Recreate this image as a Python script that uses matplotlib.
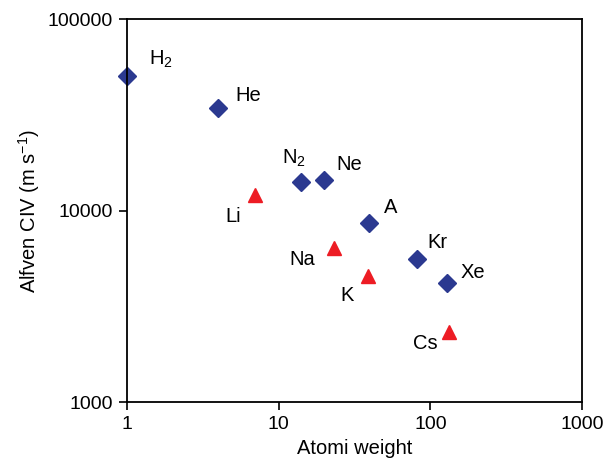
import matplotlib
matplotlib.use("Agg")
import matplotlib.pyplot as plt
from matplotlib.ticker import NullLocator

plt.rcParams['font.family'] = ['Liberation Sans', 'DejaVu Sans']
plt.rcParams['mathtext.fontset'] = 'custom'
plt.rcParams['mathtext.rm'] = 'Liberation Sans'
plt.rcParams['mathtext.it'] = 'Liberation Sans'

# gases (blue diamonds)
gas_names = ['H$_2$', 'He', 'N$_2$', 'Ne', 'A', 'Kr', 'Xe']
gas_weight = [1, 4, 14, 20, 39.5, 82, 128]
gas_civ = [50500, 34500, 14100, 14400, 8650, 5600, 4180]
gas_offsets = [(15.6, 7.9), (12.5, 5), (-13.2, 13.5), (8.4, 7.7), (10.3, 6.7), (7.2, 7.7), (10.1, 4)]

# alkali metals (red triangles)
alk_names = ['Li', 'Na', 'K', 'Cs']
alk_weight = [7, 23, 38.5, 132]
alk_civ = [12000, 6400, 4550, 2320]
alk_offsets = [(-10.1, -19.2), (-13.2, -12.7), (-10.1, -17.8), (-7.7, -12.5)]

xticks = [1, 10, 100, 1000]
yticks = [1000, 10000, 100000]

fig = plt.figure(figsize=(6.04, 4.67), dpi=100)
ax = fig.add_axes([0.21, 0.139, 0.754, 0.82])

ax.plot(gas_weight, gas_civ, 'D', color='#2b3990', ms=9.5, ls='none', clip_on=False)
ax.plot(alk_weight, alk_civ, '^', color='#ed1c24', ms=10, ls='none', clip_on=False)

for name, x, y, off in zip(gas_names, gas_weight, gas_civ, gas_offsets):
    ax.annotate(name, (x, y), xytext=off, textcoords='offset points',
                fontsize=14.5, ha='left', va='baseline')
for name, x, y, off in zip(alk_names, alk_weight, alk_civ, alk_offsets):
    ax.annotate(name, (x, y), xytext=off, textcoords='offset points',
                fontsize=14.5, ha='right', va='baseline')

ax.set_xscale('log')
ax.set_yscale('log')
ax.set_xlim(1, 1000)
ax.set_ylim(1000, 100000)
ax.set_xticks(xticks)
ax.set_xticklabels([str(t) for t in xticks])
ax.set_yticks(yticks)
ax.set_yticklabels([str(t) for t in yticks])
ax.xaxis.set_minor_locator(NullLocator())
ax.yaxis.set_minor_locator(NullLocator())
ax.tick_params(direction='out', length=6, width=1.2, labelsize=14, pad=4)
for s in ax.spines.values():
    s.set_linewidth(1.3)

ax.set_xlabel('Atomi weight', fontsize=14.5)
ax.set_ylabel('Alfven CIV (m s$^{-1}$)', fontsize=14.5)

fig.savefig('out.png', dpi=100)
